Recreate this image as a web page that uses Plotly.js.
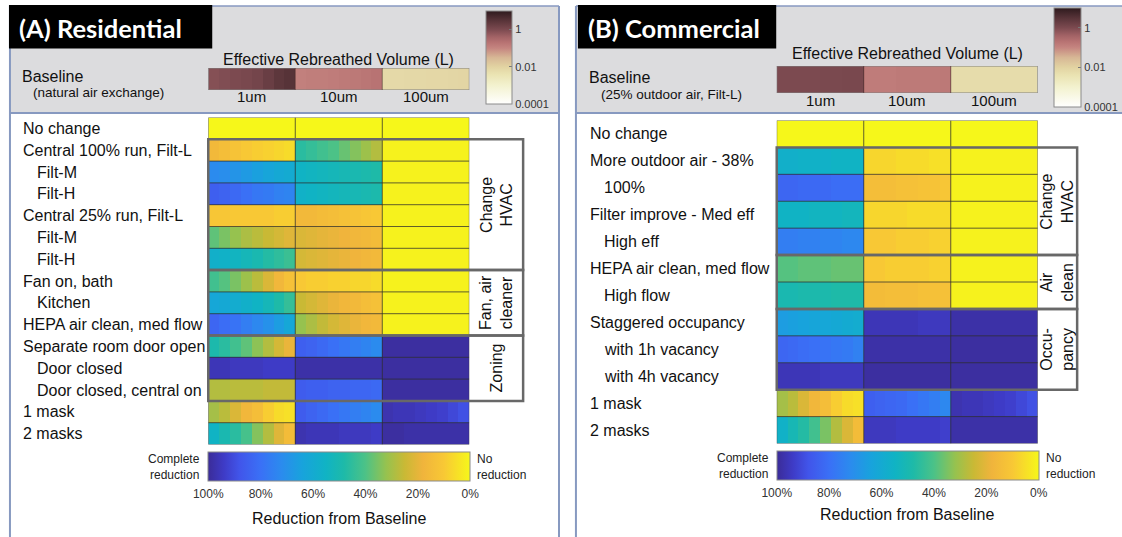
<!DOCTYPE html>
<html>
<head>
<meta charset="utf-8">
<script src="https://cdn.plot.ly/plotly-3.0.1.min.js"></script>
<style>
  html, body { margin: 0; padding: 0; background: #ffffff; }
  #fig { width: 1122px; height: 537px; }
</style>
</head>
<body>
<div id="fig"></div>
<script>
// ---------------------------------------------------------------------------
// Data: reduction from baseline (%) per scenario, split by particle size.
// Each inner list holds the sub-bins drawn as thin stripes inside a cell.
// ---------------------------------------------------------------------------
const sizeBins = ['1um', '10um', '100um'];
const reductionTicks = ['100%', '80%', '60%', '40%', '20%', '0%'];
const logTicks = ['1', '0.01', '0.0001'];

// Residential
const resLabels = ['No change', 'Central 100% run, Filt-L', 'Filt-M', 'Filt-H',
  'Central 25% run, Filt-L', 'Filt-M', 'Filt-H', 'Fan on, bath', 'Kitchen',
  'HEPA air clean, med flow', 'Separate room door open', 'Door closed',
  'Door closed, central on', '1 mask', '2 masks'];
const resIndent = [0, 0, 1, 1, 0, 1, 1, 0, 1, 0, 0, 1, 1, 0, 0];

const res1um = [
  [0, 0, 0, 0, 0, 0, 0, 0],
  [16, 14, 12, 10, 9, 8, 7, 6],
  [72, 71, 69, 67, 65, 63, 61, 60],
  [85, 84, 82, 80, 78, 77, 75, 74],
  [11, 11, 10, 10, 10, 10, 9, 9],
  [38, 35, 32, 29, 27, 25, 23, 21],
  [57, 56, 54, 52, 50, 47, 45, 43],
  [42, 39, 35, 31, 27, 22, 17, 13],
  [62, 61, 59, 57, 55, 52, 48, 44],
  [83, 81, 79, 76, 73, 70, 66, 62],
  [49, 46, 42, 38, 33, 28, 23, 19],
  [96, 96, 95, 95, 95, 94, 94, 94],
  [28, 28, 27, 27, 27, 26, 26, 26],
  [30, 27, 22, 17, 14, 9, 6, 5],
  [55, 50, 46, 41, 34, 28, 21, 15]
];
const res10um = [
  [0, 0, 0, 0, 0, 0, 0, 0],
  [46, 44, 42, 40, 37, 34, 31, 28],
  [55, 54, 53, 52, 51, 50, 49, 48],
  [56, 55, 54, 53, 52, 51, 50, 49],
  [16, 16, 15, 14, 13, 12, 11, 10],
  [22, 21, 20, 19, 18, 17, 16, 15],
  [23, 22, 21, 20, 19, 18, 17, 16],
  [10, 9, 9, 8, 8, 7, 7, 6],
  [25, 23, 21, 19, 17, 16, 14, 13],
  [32, 29, 26, 23, 21, 19, 17, 16],
  [85, 84, 82, 80, 78, 76, 74, 72],
  [98, 98, 98, 98, 98, 98, 98, 98],
  [86, 85, 85, 84, 84, 83, 83, 82],
  [86, 84, 82, 80, 78, 76, 74, 72],
  [97, 96, 96, 96, 95, 95, 95, 94]
];
const res100um = [
  [0, 0, 0, 0, 0, 0, 0, 0],
  [1, 1, 1, 1, 1, 1, 1, 1],
  [1, 1, 1, 1, 1, 1, 1, 1],
  [1, 1, 1, 1, 1, 1, 1, 1],
  [1, 1, 1, 1, 1, 1, 1, 1],
  [1, 1, 1, 1, 1, 1, 1, 1],
  [1, 1, 1, 1, 1, 1, 1, 1],
  [1, 1, 1, 1, 1, 1, 1, 1],
  [1, 1, 1, 1, 1, 1, 1, 1],
  [1, 1, 1, 1, 1, 1, 1, 1],
  [99, 99, 99, 99, 99, 99, 99, 99],
  [99, 99, 99, 99, 99, 99, 99, 99],
  [99, 99, 99, 99, 99, 99, 99, 99],
  [97, 96, 96, 95, 94, 93, 91, 89],
  [99, 99, 98, 98, 98, 98, 98, 98]
];
// Baseline effective rebreathed volume (L)
const resBase1um = [0.8, 0.9, 1.0, 1.1, 1.3, 1.8, 2.6, 3.2];
const resBase10um = [0.12, 0.13, 0.13, 0.14, 0.15, 0.16, 0.18, 0.2];
const resBase100um = [0.007, 0.007, 0.0075, 0.0075, 0.008, 0.008, 0.0085, 0.009];
const resGroups = [
  { label: 'Change<br>HVAC', first: 1, last: 6 },
  { label: 'Fan, air<br>cleaner', first: 7, last: 9 },
  { label: 'Zoning', first: 10, last: 12 }
];

// Commercial
const comLabels = ['No change', 'More outdoor air - 38%', '100%',
  'Filter improve - Med eff', 'High eff', 'HEPA air clean, med flow',
  'High flow', 'Staggered occupancy', 'with 1h vacancy', 'with 4h vacancy',
  '1 mask', '2 masks'];
const comIndent = [0, 0, 1, 0, 1, 0, 1, 0, 1, 1, 0, 0];

const com1um = [
  [0, 0, 0, 0, 0, 0, 0, 0],
  [57, 57, 56, 56, 56, 55, 55, 55],
  [83, 83, 82, 82, 82, 81, 81, 81],
  [55, 55, 55, 54, 54, 54, 53, 53],
  [76, 76, 75, 75, 74, 74, 73, 73],
  [39, 39, 38, 38, 38, 37, 37, 37],
  [50, 50, 49, 49, 49, 48, 48, 48],
  [66, 65, 64, 63, 62, 61, 60, 59],
  [83, 82, 81, 80, 79, 78, 77, 75],
  [96, 96, 96, 96, 95, 95, 95, 95],
  [30, 27, 22, 17, 14, 9, 6, 5],
  [56, 51, 47, 42, 35, 28, 22, 15]
];
const com10um = [
  [0, 0, 0, 0, 0, 0, 0, 0],
  [7, 7, 7, 6, 6, 6, 5, 5],
  [14, 14, 14, 13, 13, 12, 12, 11],
  [7, 7, 7, 7, 6, 6, 6, 6],
  [10, 10, 10, 9, 9, 9, 8, 8],
  [10, 10, 9, 9, 9, 9, 8, 8],
  [15, 15, 14, 14, 14, 13, 13, 13],
  [96, 96, 96, 96, 96, 95, 95, 95],
  [98, 98, 98, 98, 98, 98, 98, 98],
  [99, 99, 99, 99, 99, 99, 99, 99],
  [85, 84, 83, 82, 80, 78, 76, 73],
  [95, 95, 95, 94, 94, 94, 94, 93]
];
const com100um = [
  [0, 0, 0, 0, 0, 0, 0, 0],
  [1, 1, 1, 1, 1, 1, 1, 1],
  [1, 1, 1, 1, 1, 1, 1, 1],
  [1, 1, 1, 1, 1, 1, 1, 1],
  [1, 1, 1, 1, 1, 1, 1, 1],
  [1, 1, 1, 1, 1, 1, 1, 1],
  [1, 1, 1, 1, 1, 1, 1, 1],
  [98, 98, 98, 98, 98, 98, 98, 98],
  [99, 99, 99, 99, 99, 99, 99, 99],
  [99, 99, 99, 99, 99, 99, 99, 99],
  [97, 96, 96, 95, 94, 93, 91, 89],
  [98, 98, 98, 98, 98, 98, 98, 98]
];
const comBase1um = [1.0, 1.0, 1.0, 1.0, 1.05, 1.05, 1.1, 1.1];
const comBase10um = [0.14, 0.14, 0.14, 0.15, 0.15, 0.15, 0.15, 0.16];
const comBase100um = [0.006, 0.006, 0.006, 0.006, 0.006, 0.006, 0.006, 0.006];
const comGroups = [
  { label: 'Change<br>HVAC', first: 1, last: 4 },
  { label: 'Air<br>clean', first: 5, last: 6 },
  { label: 'Occu-<br>pancy', first: 7, last: 9 }
];

// ---------------------------------------------------------------------------
// Styling
// ---------------------------------------------------------------------------
const W = 1122, H = 537;
const X = p => p / W;          // pixel column -> paper
const Y = p => 1 - p / H;      // pixel row -> paper
const FONT = 'Liberation Sans, Arial, Helvetica, sans-serif';
const TITLE_FONT = 'Lato, Open Sans, sans-serif';
const FRAME = '#8799c0';

// parula-like scale on "share of baseline remaining" (0 = complete reduction)
const parula = [
  [0.00, '#3b2c98'], [0.06, '#3e3bc6'], [0.12, '#4155ea'], [0.20, '#3a70f6'],
  [0.28, '#2b8bee'], [0.36, '#18a3dc'], [0.45, '#10b3c4'], [0.52, '#1ebaa8'],
  [0.60, '#4cc287'], [0.68, '#96c24f'], [0.75, '#c9b935'], [0.82, '#f0b43c'],
  [0.90, '#f8c835'], [1.00, '#f6f71a']
];
// log-volume scale (log10 L from -4 to 1)
const rose = [
  [0.00, '#ffffff'], [0.20, '#f3f2cf'], [0.32, '#eae3b2'], [0.40, '#e2d3a2'],
  [0.50, '#d7b795'], [0.60, '#c58580'], [0.66, '#b87373'], [0.72, '#a36366'],
  [0.80, '#7c4a50'], [0.90, '#573338'], [1.00, '#2e1a1e']
];

const panels = [
  {
    ax: '', bx: '3', labels: resLabels, indent: resIndent,
    r: [res1um, res10um, res100um],
    base: [resBase1um, resBase10um, resBase100um],
    groups: resGroups,
    frame: { l: 10, r: 561 },
    badge: { l: 9, r: 213, text: '(A) Residential' },
    header: { title: 60, barT: 68, barB: 90, sizeY: 97, base: 76.5, sub: 92,
      subText: '(natural air exchange)', subX: 31 },
    lcb: { l: 488, w: 26, t: 11, b: 104 },
    hm: { l: 209, r: 471, t: 117.5, b: 444.5 },
    labX: 21, indX: 35, boxR: 525,
    cb: { t: 451.5, h: 28.5, titleY: 518, leftX: 203, rightX: 477, midY: 467 }
  },
  {
    ax: '2', bx: '4', labels: comLabels, indent: comIndent,
    r: [com1um, com10um, com100um],
    base: [comBase1um, comBase10um, comBase100um],
    groups: comGroups,
    frame: { l: 578, r: 1140 },
    badge: { l: 580, r: 779, text: '(B) Commercial' },
    header: { title: 53, barT: 66, barB: 93, sizeY: 101, base: 77.5, sub: 94,
      subText: '(25% outdoor air, Filt-L)', subX: 601 },
    lcb: { l: 1058, w: 27, t: 8, b: 107 },
    hm: { l: 779.5, r: 1041.5, t: 120.5, b: 443.5 },
    labX: 590, indX: 604, boxR: 1081,
    cb: { t: 450.5, h: 29, titleY: 514, leftX: 774, rightX: 1048, midY: 466 }
  }
];

const traces = [];
const shapes = [];
const annotations = [];
const layout = {
  width: W, height: H,
  margin: { l: 0, r: 0, t: 0, b: 0 },
  paper_bgcolor: '#ffffff', plot_bgcolor: 'rgba(0,0,0,0)',
  font: { family: FONT, color: '#111' },
  showlegend: false
};

panels.forEach(p => {
  const nRows = p.labels.length;
  const nSub = p.r[0][0].length;
  const nCols = nSub * sizeBins.length;
  const xa = 'x' + p.ax, ya = 'y' + p.ax;
  const xb = 'x' + p.bx, yb = 'y' + p.bx;

  // --- panel frame and header band
  shapes.push({ type: 'rect', xref: 'paper', yref: 'paper', layer: 'below',
    x0: X(p.frame.l), x1: X(p.frame.r), y0: Y(6), y1: Y(113),
    fillcolor: '#dcdcde', line: { width: 0 } });
  shapes.push({ type: 'line', xref: 'paper', yref: 'paper', layer: 'below',
    x0: X(p.frame.l), x1: X(p.frame.r), y0: Y(6), y1: Y(6), line: { color: FRAME, width: 1.5 } });
  shapes.push({ type: 'line', xref: 'paper', yref: 'paper', layer: 'below',
    x0: X(p.frame.l), x1: X(p.frame.r), y0: Y(113), y1: Y(113), line: { color: FRAME, width: 2 } });
  shapes.push({ type: 'line', xref: 'paper', yref: 'paper', layer: 'below',
    x0: X(p.frame.l), x1: X(p.frame.l), y0: Y(6), y1: Y(545), line: { color: FRAME, width: 2 } });
  shapes.push({ type: 'line', xref: 'paper', yref: 'paper', layer: 'below',
    x0: X(p.frame.r), x1: X(p.frame.r), y0: Y(6), y1: Y(545), line: { color: FRAME, width: 2 } });
  shapes.push({ type: 'rect', xref: 'paper', yref: 'paper', layer: 'above',
    x0: X(p.badge.l), x1: X(p.badge.r), y0: Y(5), y1: Y(48.5),
    fillcolor: '#000000', line: { width: 0 } });
  annotations.push({ xref: 'paper', yref: 'paper', x: X(p.badge.l + 8), y: Y(28),
    xanchor: 'left', yanchor: 'middle', showarrow: false,
    text: '<b>' + p.badge.text + '</b>', font: { family: TITLE_FONT, size: 25.5, color: '#ffffff' } });

  // --- main heatmap
  const z = [];
  for (let i = 0; i < nRows; i++) {
    const row = [];
    p.r.forEach(bin => bin[i].forEach(v => row.push(100 - v)));
    z.push(row);
  }
  traces.push({
    type: 'heatmap', xaxis: xa, yaxis: ya, z: z,
    zmin: 0, zmax: 100, colorscale: parula, hoverinfo: 'skip',
    showscale: true,
    colorbar: {
      orientation: 'h', xref: 'paper', yref: 'paper',
      x: X(p.hm.l), xanchor: 'left', y: Y(p.cb.t), yanchor: 'top',
      len: p.hm.r - p.hm.l, lenmode: 'pixels',
      thickness: p.cb.h, thicknessmode: 'pixels',
      xpad: 0, ypad: 0, outlinewidth: 1, outlinecolor: '#8a8a8a',
      tickvals: [0, 20, 40, 60, 80, 100], ticktext: reductionTicks,
      ticks: 'outside', ticklen: 3, tickcolor: 'rgba(0,0,0,0)',
      tickfont: { family: FONT, size: 12, color: '#333' }
    }
  });
  layout['xaxis' + p.ax] = { domain: [X(p.hm.l), X(p.hm.r)], range: [-0.5, nCols - 0.5],
    visible: false, fixedrange: true, anchor: ya };
  layout['yaxis' + p.ax] = { domain: [Y(p.hm.b), Y(p.hm.t)], range: [nRows - 0.5, -0.5],
    visible: false, fixedrange: true, anchor: xa };

  // cell separators
  for (let i = 1; i < nRows; i++) {
    shapes.push({ type: 'line', xref: xa, yref: ya, x0: -0.5, x1: nCols - 0.5,
      y0: i - 0.5, y1: i - 0.5, line: { color: 'rgba(45,45,45,0.75)', width: 1 } });
  }
  for (let k = 1; k < sizeBins.length; k++) {
    shapes.push({ type: 'line', xref: xa, yref: ya, x0: k * nSub - 0.5, x1: k * nSub - 0.5,
      y0: -0.5, y1: nRows - 0.5, line: { color: 'rgba(45,45,45,0.75)', width: 1 } });
  }
  shapes.push({ type: 'rect', xref: xa, yref: ya, x0: -0.5, x1: nCols - 0.5,
    y0: -0.5, y1: nRows - 0.5, line: { color: 'rgba(60,60,60,0.7)', width: 1 } });

  // scenario group boxes
  p.groups.forEach(g => {
    shapes.push({ type: 'rect', xref: 'paper', yref: ya,
      x0: X(p.hm.l), x1: X(p.boxR), y0: g.first - 0.5, y1: g.last + 0.5,
      line: { color: '#686868', width: 2.5 } });
    annotations.push({ xref: 'paper', yref: ya, x: X((p.hm.r + p.boxR) / 2),
      y: (g.first + g.last) / 2, textangle: -90, showarrow: false,
      xanchor: 'center', yanchor: 'middle', align: 'center',
      text: g.label, font: { family: FONT, size: 16, color: '#111' } });
  });

  // row labels
  p.labels.forEach((lab, i) => {
    annotations.push({ xref: 'paper', yref: ya, x: X(p.indent[i] ? p.indX : p.labX), y: i,
      xanchor: 'left', yanchor: 'middle', showarrow: false, text: lab,
      font: { family: FONT, size: 16, color: '#111' } });
  });

  // bottom colour bar captions
  annotations.push({ xref: 'paper', yref: 'paper', x: X(p.cb.leftX), y: Y(p.cb.midY),
    xanchor: 'right', yanchor: 'middle', align: 'right', showarrow: false,
    text: 'Complete<br>reduction', font: { family: FONT, size: 12, color: '#222' } });
  annotations.push({ xref: 'paper', yref: 'paper', x: X(p.cb.rightX), y: Y(p.cb.midY),
    xanchor: 'left', yanchor: 'middle', align: 'left', showarrow: false,
    text: 'No<br>reduction', font: { family: FONT, size: 12, color: '#222' } });
  annotations.push({ xref: 'paper', yref: 'paper', x: X((p.hm.l + p.hm.r) / 2), y: Y(p.cb.titleY),
    xanchor: 'center', yanchor: 'middle', showarrow: false,
    text: 'Reduction from Baseline', font: { family: FONT, size: 16, color: '#111' } });

  // --- baseline strip
  const bz = [[].concat(...p.base.map(b => b.map(v => Math.log10(v))))];
  traces.push({
    type: 'heatmap', xaxis: xb, yaxis: yb, z: bz,
    zmin: -4, zmax: 1, colorscale: rose, hoverinfo: 'skip',
    showscale: true,
    colorbar: {
      orientation: 'v', xref: 'paper', yref: 'paper',
      x: X(p.lcb.l), xanchor: 'left', y: Y(p.lcb.t), yanchor: 'top',
      len: p.lcb.b - p.lcb.t, lenmode: 'pixels',
      thickness: p.lcb.w, thicknessmode: 'pixels',
      xpad: 0, ypad: 0, outlinewidth: 1, outlinecolor: '#8a8a8a',
      tickvals: [0, -2, -4], ticktext: logTicks,
      ticks: 'inside', ticklen: 3, tickcolor: '#777',
      tickfont: { family: FONT, size: 11, color: '#333' }
    }
  });
  layout['xaxis' + p.bx] = { domain: [X(p.hm.l), X(p.hm.r)], range: [-0.5, nCols - 0.5],
    visible: false, fixedrange: true, anchor: yb };
  layout['yaxis' + p.bx] = { domain: [Y(p.header.barB), Y(p.header.barT)], range: [-0.5, 0.5],
    visible: false, fixedrange: true, anchor: xb };
  shapes.push({ type: 'rect', xref: xb, yref: yb, x0: -0.5, x1: nCols - 0.5, y0: -0.5, y1: 0.5,
    line: { color: '#808080', width: 1 } });
  for (let k = 1; k < sizeBins.length; k++) {
    shapes.push({ type: 'line', xref: xb, yref: yb, x0: k * nSub - 0.5, x1: k * nSub - 0.5,
      y0: -0.5, y1: 0.5, line: { color: 'rgba(70,40,40,0.6)', width: 1 } });
  }
  sizeBins.forEach((s, k) => {
    annotations.push({ xref: xb, yref: 'paper', x: k * nSub + (nSub - 1) / 2, y: Y(p.header.sizeY),
      xanchor: 'center', yanchor: 'middle', showarrow: false, text: s,
      font: { family: FONT, size: 15, color: '#111' } });
  });
  annotations.push({ xref: 'paper', yref: 'paper', x: X((p.hm.l + p.hm.r) / 2), y: Y(p.header.title),
    xanchor: 'center', yanchor: 'middle', showarrow: false,
    text: 'Effective Rebreathed Volume (L)', font: { family: FONT, size: 16, color: '#111' } });
  annotations.push({ xref: 'paper', yref: 'paper', x: X(p.labX - 1), y: Y(p.header.base),
    xanchor: 'left', yanchor: 'middle', showarrow: false, text: 'Baseline',
    font: { family: FONT, size: 16, color: '#111' } });
  annotations.push({ xref: 'paper', yref: 'paper', x: X(p.header.subX), y: Y(p.header.sub),
    xanchor: 'left', yanchor: 'middle', showarrow: false, text: p.header.subText,
    font: { family: FONT, size: 13.5, color: '#111' } });
});

layout.shapes = shapes;
layout.annotations = annotations;

Plotly.newPlot('fig', traces, layout, { displayModeBar: false, staticPlot: true });
</script>
</body>
</html>
